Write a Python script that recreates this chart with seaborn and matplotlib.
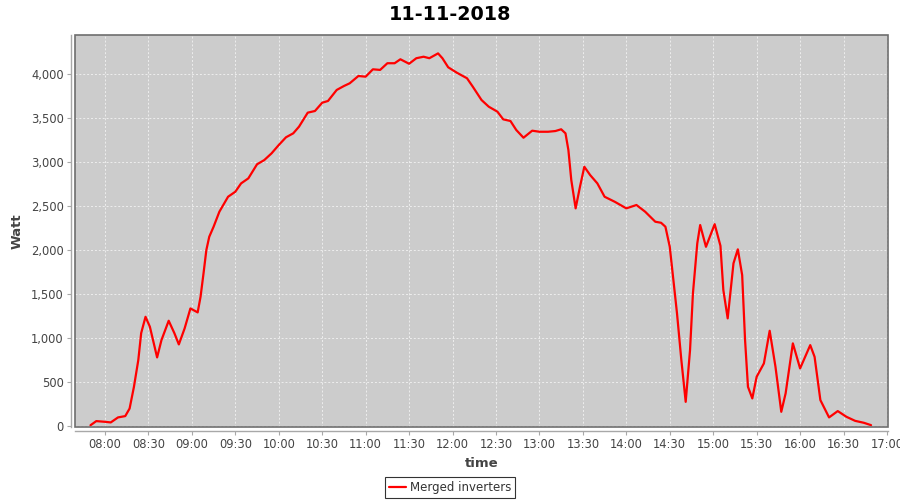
import matplotlib
matplotlib.use("Agg")
import matplotlib.pyplot as plt
import matplotlib.dates as mdates
import matplotlib.ticker as mticker
from matplotlib.patches import Rectangle
import seaborn as sns
import pandas as pd

# readings of the merged inverters on 11-11-2018 (time, watt)
times = ["07:50", "07:54", "08:00", "08:04", "08:09", "08:14", "08:17", "08:20", "08:23", "08:25",
         "08:28", "08:31", "08:36", "08:39", "08:44", "08:48", "08:51", "08:55", "08:59", "09:04",
         "09:06", "09:08", "09:10", "09:12", "09:15", "09:19", "09:25", "09:30", "09:34", "09:39",
         "09:45", "09:50", "09:55", "10:00", "10:05", "10:10", "10:14", "10:20", "10:25", "10:30",
         "10:34", "10:40", "10:45", "10:49", "10:55", "11:00", "11:05", "11:10", "11:15", "11:20",
         "11:24", "11:30", "11:35", "11:40", "11:44", "11:50", "11:53", "11:57", "12:03", "12:10",
         "12:14", "12:20", "12:25", "12:31", "12:35", "12:40", "12:44", "12:49", "12:55", "13:00",
         "13:06", "13:11", "13:15", "13:18", "13:20", "13:22", "13:25", "13:28", "13:31", "13:35",
         "13:40", "13:45", "13:52", "14:00", "14:07", "14:13", "14:20", "14:24", "14:27", "14:30",
         "14:32", "14:35", "14:38", "14:41", "14:44", "14:46", "14:49", "14:51", "14:55", "15:01",
         "15:05", "15:07", "15:10", "15:14", "15:17", "15:20", "15:22", "15:24", "15:27", "15:30",
         "15:35", "15:39", "15:43", "15:47", "15:50", "15:55", "16:00", "16:07", "16:10", "16:14",
         "16:20", "16:26", "16:32", "16:38", "16:44", "16:49"]
watt = [10, 57, 49, 42, 99, 114, 200, 447, 750, 1058,
        1243, 1130, 781, 978, 1198, 1054, 929, 1111, 1338, 1293,
        1471, 1730, 2002, 2153, 2267, 2438, 2608, 2665, 2760, 2817,
        2977, 3025, 3101, 3196, 3284, 3329, 3405, 3564, 3583, 3677,
        3697, 3822, 3867, 3898, 3981, 3973, 4057, 4050, 4126, 4126,
        4171, 4120, 4183, 4200, 4183, 4238, 4183, 4080, 4018, 3955,
        3859, 3708, 3632, 3575, 3488, 3469, 3367, 3279, 3359, 3347,
        3347, 3355, 3375, 3329, 3139, 2798, 2476, 2722, 2949, 2855,
        2760, 2608, 2551, 2476, 2514, 2438, 2324, 2312, 2267, 2039,
        1737, 1282, 751, 276, 864, 1509, 2078, 2286, 2039, 2296,
        2050, 1547, 1225, 1851, 2010, 1717, 978, 447, 315, 561,
        713, 1084, 674, 163, 372, 941, 656, 921, 788, 296,
        99, 171, 106, 60, 38, 11]

day = "2018-11-11"
df = pd.DataFrame({"time": pd.to_datetime([day + " " + t for t in times]), "Watt": watt})

sns.set_style("white")
plt.rcParams["font.family"] = ["DejaVu Sans"]

fig = plt.figure(figsize=(9, 5), dpi=100)
ax = fig.add_axes([75 / 900, 1 - 427 / 500, (888 - 75) / 900, (427 - 35) / 500])
ax.set_facecolor("#cccccc")

sns.lineplot(data=df, x="time", y="Watt", color="red", linewidth=1.6, ax=ax,
             label="Merged inverters", legend=False)

ax.set_xlim(pd.Timestamp(day + " 07:39:18"), pd.Timestamp(day + " 17:00:42"))
ax.set_ylim(-10, 4447)
ax.xaxis.set_major_locator(mdates.MinuteLocator(byminute=[0, 30]))
ax.xaxis.set_major_formatter(mdates.DateFormatter("%H:%M"))
ax.yaxis.set_major_locator(mticker.MultipleLocator(500))
ax.yaxis.set_major_formatter(mticker.FuncFormatter(lambda v, p: f"{int(v):,}"))

ax.grid(True, color="#eeeeee", linestyle=(0, (2, 2)), linewidth=0.7)
ax.set_axisbelow(True)

for s in ["top", "right"]:
    ax.spines[s].set_visible(False)
for s in ["left", "bottom"]:
    ax.spines[s].set_position(("outward", 3))
    ax.spines[s].set_color("#a8a8a8")
    ax.spines[s].set_linewidth(1)
ax.add_patch(Rectangle((0, 0), 1, 1, transform=ax.transAxes, fill=False,
                       edgecolor="#6e6e6e", linewidth=1.2, clip_on=False, zorder=5))

ax.tick_params(axis="both", which="major", length=3, width=0.8, color="#a8a8a8",
               labelsize=8.3, labelcolor="#444444", pad=2, direction="out")
ax.tick_params(left=True, bottom=True)

ax.set_xlabel("time", fontsize=9.5, fontweight="bold", color="#444444", labelpad=4)
ax.set_ylabel("Watt", fontsize=9.5, fontweight="bold", color="#444444", labelpad=5)

fig.suptitle("11-11-2018", x=0.5, y=1 - 14 / 500, va="center",
             fontsize=13.8, fontweight="bold", color="black")

handles, labels = ax.get_legend_handles_labels()
leg = fig.legend(handles, labels, loc="center", bbox_to_anchor=(0.5, 1 - 487.5 / 500),
                 fontsize=8.5, frameon=True, fancybox=False, handlelength=1.5,
                 handletextpad=0.3, borderpad=0.35, borderaxespad=0)
leg.get_frame().set_edgecolor("black")
leg.get_frame().set_linewidth(0.8)
for t in leg.get_texts():
    t.set_color("#333333")

fig.savefig("out.png", dpi=100)
